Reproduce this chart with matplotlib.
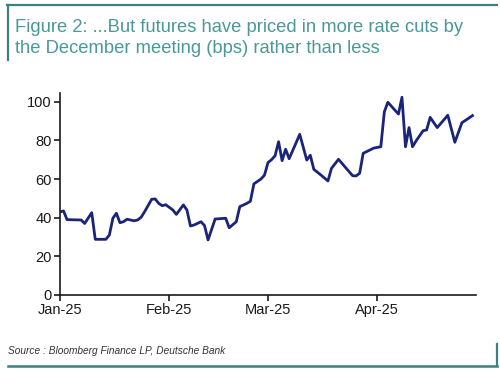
import pandas as pd
import matplotlib
matplotlib.use('Agg')
import matplotlib.pyplot as plt
from matplotlib.lines import Line2D

# datos (bps de recortes descontados hasta la reunion de diciembre)
dates = ['2025-01-01', '2025-01-02', '2025-01-03', '2025-01-07', '2025-01-08', '2025-01-10',
         '2025-01-11', '2025-01-14', '2025-01-15', '2025-01-16', '2025-01-17', '2025-01-18',
         '2025-01-19', '2025-01-20', '2025-01-22', '2025-01-23', '2025-01-24', '2025-01-25',
         '2025-01-27', '2025-01-28', '2025-01-29', '2025-01-30', '2025-01-31', '2025-02-02',
         '2025-02-03', '2025-02-05', '2025-02-06', '2025-02-07', '2025-02-08', '2025-02-10',
         '2025-02-11', '2025-02-12', '2025-02-14', '2025-02-17', '2025-02-18', '2025-02-20',
         '2025-02-21', '2025-02-23', '2025-02-24', '2025-02-25', '2025-02-27', '2025-02-28',
         '2025-03-01', '2025-03-02', '2025-03-03', '2025-03-04', '2025-03-05', '2025-03-06',
         '2025-03-07', '2025-03-10', '2025-03-12', '2025-03-13', '2025-03-14', '2025-03-16',
         '2025-03-18', '2025-03-19', '2025-03-21', '2025-03-25', '2025-03-26', '2025-03-27',
         '2025-03-28', '2025-03-31', '2025-04-02', '2025-04-03', '2025-04-04', '2025-04-07',
         '2025-04-08', '2025-04-09', '2025-04-10', '2025-04-11', '2025-04-12', '2025-04-14',
         '2025-04-15', '2025-04-16', '2025-04-18', '2025-04-21', '2025-04-23', '2025-04-25',
         '2025-04-28']
values = [43, 43.5, 39, 38.8, 37, 42.6,
          28.8, 28.8, 31, 39.7, 42.3, 37.4,
          37.9, 39.2, 38.4, 38.8, 40.2, 43.1,
          49.5, 49.7, 47.4, 46.2, 46.7, 44,
          41.7, 46.6, 44, 35.7, 36.2, 37.9,
          35.9, 28.5, 39.3, 39.7, 34.8, 37.9,
          45.7, 47.4, 48.5, 57.5, 60, 62,
          68.5, 70, 72, 79.3, 69.5, 75.4,
          70.5, 83.1, 69.8, 72.3, 65, 62.1,
          59, 65.5, 70.2, 61.7, 61.6, 63,
          73.3, 76, 76.7, 94.8, 99.7, 93.6,
          102.3, 76.7, 86.6, 76.7, 79.7, 85,
          85.4, 91.9, 86.6, 93, 79, 89.1,
          92.8]
tick_dates = ['2025-01-01', '2025-02-01', '2025-03-01', '2025-04-01']
tick_labels = ['Jan-25', 'Feb-25', 'Mar-25', 'Apr-25']
yticks = [0, 20, 40, 60, 80, 100]

titulo = ['Figure 2: ...But futures have priced in more rate cuts by',
          'the December meeting (bps) rather than less']
fuente = 'Source : Bloomberg Finance LP, Deutsche Bank'

plt.rcParams['font.family'] = ['Liberation Sans', 'DejaVu Sans']

W, H = 500, 373
fig = plt.figure(figsize=(W / 100, H / 100), dpi=100)
ax = fig.add_axes([60 / W, 1 - 295 / H, 416 / W, 202 / H])

x = pd.to_datetime(dates)
ax.plot(x, values, color='#1a2478', lw=2.0)

ax.set_xlim(pd.Timestamp('2025-01-01'), pd.Timestamp('2025-04-29'))
ax.set_ylim(0, 104.5)
ax.set_yticks(yticks)
ax.set_xticks(pd.to_datetime(tick_dates))
ax.set_xticklabels(tick_labels)
ax.spines['top'].set_visible(False)
ax.spines['right'].set_visible(False)
for s in ['left', 'bottom']:
    ax.spines[s].set_linewidth(1.2)
    ax.spines[s].set_color('#1a1a1a')
ax.tick_params(axis='both', direction='out', length=4, width=1.2,
               labelsize=10.5, colors='#1a1a1a', pad=2)

# titulo en dos lineas
teal = '#4a9898'
fig.text(15 / W, 1 - 31.5 / H, titulo[0], color=teal, fontsize=13.2, va='baseline')
fig.text(15 / W, 1 - 53 / H, titulo[1], color=teal, fontsize=13.2, va='baseline')

# fuente
fig.text(8 / W, 1 - 354 / H, fuente, color='#333333', fontsize=7.3, style='italic',
         va='baseline')

# marco decorativo
borde = '#3d8082'
fig.add_artist(Line2D([7 / W, 497 / W], [1 - 5 / H, 1 - 5 / H], color=borde, lw=1.6))
fig.add_artist(Line2D([7.5 / W, 7.5 / W], [1 - 5 / H, 1 - 60 / H], color=borde, lw=1.6))
fig.add_artist(Line2D([8 / W, 497 / W], [1 - 366 / H, 1 - 366 / H], color=borde, lw=1.8))
fig.add_artist(Line2D([496.7 / W, 496.7 / W], [1 - 344 / H, 1 - 366 / H], color=borde, lw=1.6))

fig.savefig('out.png', dpi=100)
